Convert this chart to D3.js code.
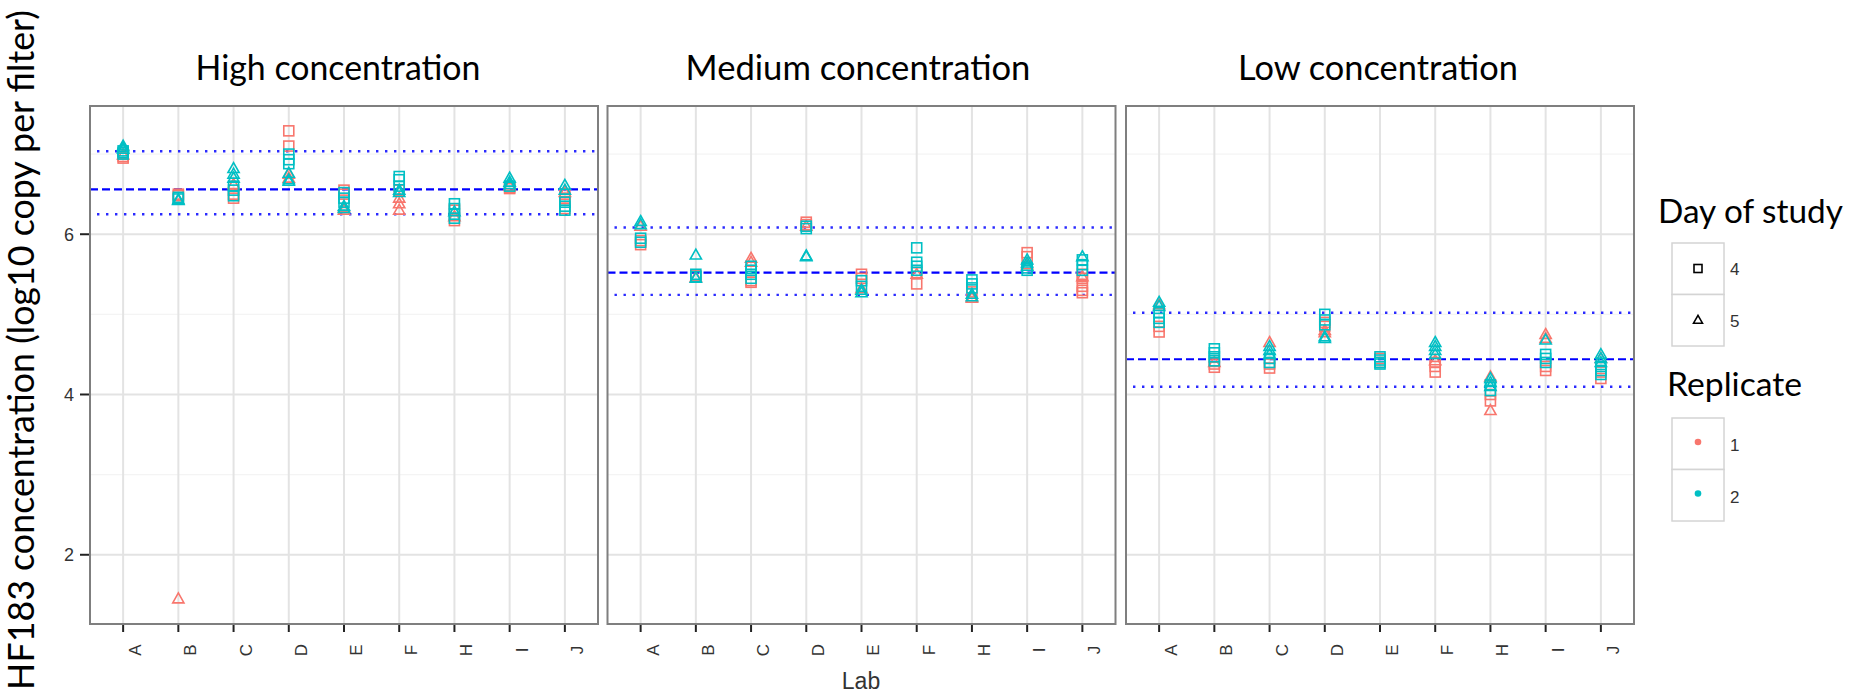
<!DOCTYPE html>
<meta charset="utf-8">
<style>
body { margin: 0; background: #fff; }
svg { display: block; }
.tick-label { font-family: "Liberation Sans", Arial, sans-serif; fill: #333; }
.big { font-family: Lato, "Open Sans", sans-serif; fill: #000; }
</style>
<body>
<script src="https://d3js.org/d3.v7.min.js"></script>
<script>
// categories and facets
var labs = ["A", "B", "C", "D", "E", "F", "H", "I", "J"];
var panelTitles = ["High concentration", "Medium concentration", "Low concentration"];
var yTicks = [2, 4, 6];
var yMinor = [3, 5, 7];

// reference lines per panel (mean and limits)
var refMean  = [6.56, 5.52, 4.44];
var refUpper = [7.035, 6.083, 5.02];
var refLower = [6.25, 5.243, 4.096];

// [lab, day, replicate, log10 copies]
var highPoints = [
  ["A",4,1,6.95],["A",4,1,6.97],["A",5,1,6.99],["A",4,2,7.0],["A",4,2,7.02],["A",4,2,7.04],["A",5,2,7.06],["A",5,2,7.08],["A",5,2,7.1],
  ["B",4,1,6.5],["B",4,1,6.48],["B",5,1,1.45],["B",4,2,6.46],["B",4,2,6.44],["B",5,2,6.43],["B",5,2,6.42],
  ["C",4,1,6.45],["C",4,1,6.5],["C",5,1,6.62],["C",4,2,6.48],["C",4,2,6.55],["C",4,2,6.6],["C",5,2,6.7],["C",5,2,6.75],["C",5,2,6.82],
  ["D",4,1,7.29],["D",4,1,7.1],["D",5,1,6.75],["D",5,1,6.7],["D",4,2,7.0],["D",4,2,6.93],["D",4,2,6.88],["D",5,2,6.76],["D",5,2,6.68],["D",5,2,6.66],
  ["E",4,1,6.55],["E",4,1,6.5],["E",5,1,6.3],["E",5,1,6.33],["E",4,2,6.52],["E",4,2,6.45],["E",4,2,6.4],["E",5,2,6.35],["E",5,2,6.32],
  ["F",4,1,6.55],["F",5,1,6.45],["F",5,1,6.38],["F",5,1,6.3],["F",4,2,6.72],["F",4,2,6.68],["F",4,2,6.6],["F",5,2,6.55],["F",5,2,6.52],
  ["H",4,1,6.3],["H",4,1,6.17],["H",5,1,6.22],["H",4,2,6.38],["H",4,2,6.32],["H",4,2,6.25],["H",4,2,6.2],["H",5,2,6.28],
  ["I",4,1,6.57],["I",4,1,6.58],["I",5,1,6.6],["I",4,2,6.6],["I",5,2,6.7],["I",5,2,6.65],["I",5,2,6.62],
  ["J",4,1,6.5],["J",4,1,6.45],["J",4,1,6.32],["J",5,1,6.52],["J",4,2,6.4],["J",4,2,6.35],["J",4,2,6.3],["J",5,2,6.61],["J",5,2,6.55]
];
var mediumPoints = [
  ["A",4,1,5.87],["A",4,1,5.92],["A",5,1,6.1],["A",4,2,5.95],["A",4,2,5.9],["A",5,2,6.16],["A",5,2,6.12],
  ["B",4,1,5.48],["B",5,1,5.46],["B",4,2,5.5],["B",4,2,5.47],["B",5,2,5.74],["B",5,2,5.45],
  ["C",4,1,5.4],["C",4,1,5.42],["C",5,1,5.7],["C",5,1,5.65],["C",4,2,5.6],["C",4,2,5.55],["C",4,2,5.5],["C",4,2,5.45],
  ["D",4,1,6.15],["D",4,1,6.12],["D",5,1,6.1],["D",4,2,6.1],["D",4,2,6.07],["D",5,2,5.73],["D",5,2,5.72],
  ["E",4,1,5.5],["E",4,1,5.45],["E",5,1,5.32],["E",4,2,5.42],["E",4,2,5.35],["E",5,2,5.3],["E",5,2,5.27],
  ["F",4,1,5.52],["F",4,1,5.38],["F",5,1,5.5],["F",4,2,5.83],["F",4,2,5.65],["F",4,2,5.6],["F",4,2,5.55],
  ["H",4,1,5.28],["H",5,1,5.2],["H",5,1,5.22],["H",4,2,5.43],["H",4,2,5.38],["H",4,2,5.33],["H",5,2,5.25],["H",5,2,5.22],
  ["I",4,1,5.77],["I",4,1,5.72],["I",5,1,5.62],["I",4,2,5.58],["I",4,2,5.55],["I",5,2,5.68],["I",5,2,5.64],["I",5,2,5.6],
  ["J",4,1,5.5],["J",4,1,5.45],["J",4,1,5.35],["J",4,1,5.3],["J",4,1,5.27],["J",5,1,5.47],["J",4,2,5.68],["J",4,2,5.62],["J",4,2,5.55],["J",5,2,5.72]
];
var lowPoints = [
  ["A",4,1,4.85],["A",4,1,4.78],["A",5,1,5.12],["A",4,2,5.02],["A",4,2,4.95],["A",4,2,4.9],["A",5,2,5.15],["A",5,2,5.1],
  ["B",4,1,4.38],["B",4,1,4.34],["B",5,1,4.4],["B",4,2,4.57],["B",4,2,4.52],["B",4,2,4.47],["B",4,2,4.42],
  ["C",4,1,4.38],["C",4,1,4.33],["C",5,1,4.65],["C",4,2,4.45],["C",4,2,4.4],["C",5,2,4.6],["C",5,2,4.55],["C",5,2,4.5],
  ["D",4,1,4.9],["D",4,1,4.85],["D",5,1,4.8],["D",5,1,4.77],["D",4,2,5.0],["D",4,2,4.93],["D",4,2,4.87],["D",5,2,4.72],["D",5,2,4.7],
  ["E",4,1,4.45],["E",4,1,4.4],["E",4,2,4.47],["E",4,2,4.43],["E",4,2,4.4],["E",4,2,4.38],
  ["F",4,1,4.4],["F",4,1,4.35],["F",4,1,4.28],["F",5,1,4.42],["F",5,2,4.65],["F",5,2,4.6],["F",5,2,4.55],["F",5,2,4.5],
  ["H",4,1,4.0],["H",4,1,3.92],["H",5,1,4.22],["H",5,1,3.8],["H",4,2,4.12],["H",4,2,4.05],["H",5,2,4.2],["H",5,2,4.15],["H",5,2,4.1],
  ["I",4,1,4.35],["I",4,1,4.3],["I",5,1,4.75],["I",5,1,4.7],["I",4,2,4.5],["I",4,2,4.45],["I",4,2,4.4],["I",5,2,4.68],
  ["J",4,1,4.28],["J",4,1,4.2],["J",5,1,4.45],["J",4,2,4.35],["J",4,2,4.3],["J",4,2,4.25],["J",5,2,4.5],["J",5,2,4.45],["J",5,2,4.4]
];
var allPoints = [highPoints, mediumPoints, lowPoints];

var days = [4, 5];
var replicates = [1, 2];
var repColor = d3.scaleOrdinal().domain(replicates).range(["#F8766D", "#00BFC4"]);

var width = 1862, height = 695;
var panelLeft = [90, 607.5, 1126], panelW = 508;
var panelTop = 106, panelBottom = 624;

var svg = d3.select("body").append("svg")
    .attr("width", width).attr("height", height);

var y = d3.scaleLinear().domain([1.136, 7.6]).range([panelBottom, panelTop]);

// scale font so that text spans the wanted width
function fit(sel, target) {
  var w = sel.node().getComputedTextLength();
  var fs = parseFloat(sel.attr("font-size"));
  sel.attr("font-size", fs * target / w);
  return sel;
}

function marker(g, day, size) {
  if (day === 4) {
    return g.append("rect").attr("x", -size / 2).attr("y", -size / 2)
      .attr("width", size).attr("height", size);
  }
  var h = size * 0.95;
  return g.append("path")
    .attr("d", "M0," + (-h * 0.62) + "L" + (size * 0.56) + "," + (h * 0.42) + "L" + (-size * 0.56) + "," + (h * 0.42) + "Z");
}

var titleX = [338, 858, 1378];
var titleW = [285, 345, 280];

panelTitles.forEach(function(title, p) {
  var x = d3.scalePoint().domain(labs).range([panelLeft[p], panelLeft[p] + panelW]).padding(0.6);
  var g = svg.append("g");

  // minor + major grid
  g.selectAll(".minor").data(yMinor).enter().append("line")
    .attr("x1", panelLeft[p]).attr("x2", panelLeft[p] + panelW)
    .attr("y1", function(d) { return y(d); }).attr("y2", function(d) { return y(d); })
    .attr("stroke", "#f4f4f4").attr("stroke-width", 1.2);
  g.selectAll(".major").data(yTicks).enter().append("line")
    .attr("x1", panelLeft[p]).attr("x2", panelLeft[p] + panelW)
    .attr("y1", function(d) { return y(d); }).attr("y2", function(d) { return y(d); })
    .attr("stroke", "#e3e3e3").attr("stroke-width", 2);
  g.selectAll(".vgrid").data(labs).enter().append("line")
    .attr("x1", function(d) { return x(d); }).attr("x2", function(d) { return x(d); })
    .attr("y1", panelTop).attr("y2", panelBottom)
    .attr("stroke", "#e3e3e3").attr("stroke-width", 2);

  // reference lines
  g.append("line").attr("x1", panelLeft[p]).attr("x2", panelLeft[p] + panelW)
    .attr("y1", y(refMean[p])).attr("y2", y(refMean[p]))
    .attr("stroke", "#0000ff").attr("stroke-width", 2.2).attr("stroke-dasharray", "8,4");
  [refUpper[p], refLower[p]].forEach(function(v) {
    g.append("line").attr("x1", panelLeft[p] + 7).attr("x2", panelLeft[p] + panelW)
      .attr("y1", y(v)).attr("y2", y(v))
      .attr("stroke", "#2a2aff").attr("stroke-width", 2.4)
      .attr("stroke-dasharray", "2.4,6.6");
  });

  // points: replicate 1 first, then 2
  var pts = allPoints[p].slice().sort(function(a, b) { return a[2] - b[2]; });
  pts.forEach(function(d) {
    var m = g.append("g").attr("transform", "translate(" + x(d[0]) + "," + y(d[3]) + ")");
    marker(m, d[1], 10).attr("fill", "none")
      .attr("stroke", repColor(d[2])).attr("stroke-width", 1.6);
  });

  // border
  g.append("rect").attr("x", panelLeft[p]).attr("y", panelTop)
    .attr("width", panelW).attr("height", panelBottom - panelTop)
    .attr("fill", "none").attr("stroke", "#7f7f7f").attr("stroke-width", 2);

  // x axis ticks and labels
  g.selectAll(".xt").data(labs).enter().append("line")
    .attr("x1", function(d) { return x(d); }).attr("x2", function(d) { return x(d); })
    .attr("y1", panelBottom + 1).attr("y2", panelBottom + 8)
    .attr("stroke", "#222").attr("stroke-width", 2);
  g.selectAll(".xl").data(labs).enter().append("text")
    .attr("class", "tick-label").attr("font-size", 17)
    .attr("transform", function(d) { return "translate(" + (x(d) + 12) + ",650) rotate(-90)"; })
    .attr("text-anchor", "middle").attr("dy", "0.35em")
    .text(function(d) { return d; });

  // facet title
  var t = g.append("text").attr("class", "big").attr("x", titleX[p]).attr("y", 80)
    .attr("text-anchor", "middle").attr("font-size", 28).text(title);
  fit(t, titleW[p]);
});

// y axis (first panel only)
var ya = svg.append("g");
ya.selectAll("line").data(yTicks).enter().append("line")
  .attr("x1", 80).attr("x2", 89)
  .attr("y1", function(d) { return y(d); }).attr("y2", function(d) { return y(d); })
  .attr("stroke", "#222").attr("stroke-width", 2);
ya.selectAll("text").data(yTicks).enter().append("text")
  .attr("class", "tick-label").attr("x", 74).attr("y", function(d) { return y(d); })
  .attr("dy", "0.36em").attr("text-anchor", "end").attr("font-size", 18)
  .text(function(d) { return d; });

var yt = svg.append("text").attr("class", "big")
  .attr("transform", "translate(34,350) rotate(-90)")
  .attr("text-anchor", "middle").attr("font-size", 28)
  .text("HF183 concentration (log10 copy per filter)");
fit(yt, 680);

svg.append("text")
  .attr("x", 861).attr("y", 689).attr("text-anchor", "middle")
  .style("font-family", "'Liberation Sans Narrow', 'Liberation Sans', sans-serif")
  .attr("font-size", 23).attr("fill", "#333")
  .text("Lab");

// legends
var keyX = 1672, keyS = 52;
var lt1 = svg.append("text").attr("class", "big").attr("x", 1658).attr("y", 223)
  .attr("font-size", 28).text("Day of study");
fit(lt1, 185);
days.forEach(function(d, i) {
  var top = 243 + i * 51.5;
  svg.append("rect").attr("x", keyX).attr("y", top).attr("width", keyS).attr("height", 51.5)
    .attr("fill", "#fff").attr("stroke", "#d4d4d4").attr("stroke-width", 1.5);
  var m = svg.append("g").attr("transform", "translate(" + (keyX + 26) + "," + (top + 25.5) + ")");
  marker(m, d, 8).attr("fill", "none").attr("stroke", "#000").attr("stroke-width", 1.6);
  svg.append("text").attr("class", "tick-label").attr("font-size", 17)
    .attr("x", 1730).attr("y", top + 26).attr("dy", "0.36em").text(d);
});

var lt2 = svg.append("text").attr("class", "big").attr("x", 1667).attr("y", 396)
  .attr("font-size", 28).text("Replicate");
fit(lt2, 135);
replicates.forEach(function(r, i) {
  var top = 418 + i * 51.5;
  svg.append("rect").attr("x", keyX).attr("y", top).attr("width", keyS).attr("height", 51.5)
    .attr("fill", "#fff").attr("stroke", "#d4d4d4").attr("stroke-width", 1.5);
  svg.append("circle").attr("cx", keyX + 26).attr("cy", top + 24).attr("r", 3.3)
    .attr("fill", repColor(r));
  svg.append("text").attr("class", "tick-label").attr("font-size", 17)
    .attr("x", 1730).attr("y", top + 27).attr("dy", "0.36em").text(r);
});
</script>
</body>
